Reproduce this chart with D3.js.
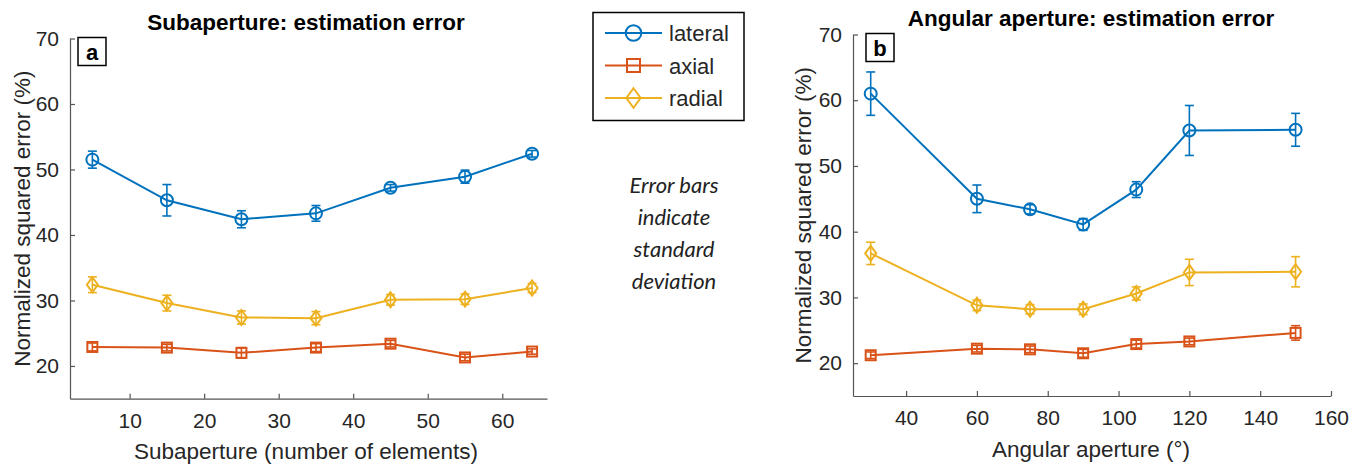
<!DOCTYPE html>
<html>
<head>
<meta charset="utf-8">
<script src="https://cdn.jsdelivr.net/npm/d3@7"></script>
<style>
  body { margin: 0; background: #fff; }
  svg { display: block; font-family: "Liberation Sans", Arial, sans-serif; }
</style>
</head>
<body>
<div class="content"></div>
<script>

// panel a: subaperture
var subX = [5, 15, 25, 35, 45, 55, 64];
var subLateral = [51.5, 45.3, 42.4, 43.3, 47.2, 48.9, 52.4];
var subLateralSd = [1.3, 2.4, 1.3, 1.2, 0.5, 1.0, 0.5];
var subAxial = [22.9, 22.8, 22.0, 22.8, 23.4, 21.3, 22.2];
var subAxialSd = [0.6, 0.5, 0.8, 0.6, 0.5, 0.5, 0.4];
var subRadial = [32.4, 29.6, 27.4, 27.3, 30.1, 30.2, 31.9];
var subRadialSd = [1.2, 1.2, 1.0, 1.0, 0.8, 0.8, 0.7];
var subTicks = [10, 20, 30, 40, 50, 60];

// panel b: angular aperture
var angX = [30, 60, 75, 90, 105, 120, 150];
var angLateral = [61.0, 45.0, 43.4, 41.1, 46.4, 55.4, 55.5];
var angLateralSd = [3.3, 2.1, 0.7, 0.9, 1.2, 3.8, 2.5];
var angAxial = [21.2, 22.2, 22.1, 21.5, 22.9, 23.3, 24.6];
var angAxialSd = [0.5, 0.5, 0.5, 0.6, 0.6, 0.5, 1.1];
var angRadial = [36.7, 28.8, 28.2, 28.2, 30.6, 33.8, 33.9];
var angRadialSd = [1.7, 0.8, 0.7, 0.8, 1.0, 2.0, 2.3];
var angTicks = [40, 60, 80, 100, 120, 140, 160];

var yTicks = [20, 30, 40, 50, 60, 70];
var seriesNames = ["lateral", "axial", "radial"];
var colors = ["#0072BD", "#D95319", "#EDB120"];
var markers = ["circle", "square", "diamond"];

var svg = d3.select(".content").append("svg")
   .attr("width", 1363)
   .attr("height", 468);

function marker(g, type, cx, cy, color, big) {
   var k = big ? 1.3 : 1;
   if (type == "circle") {
      g.append("circle").attr("cx", cx).attr("cy", cy).attr("r", 6 * k)
         .attr("fill", "none").attr("stroke", color).attr("stroke-width", 2);
   } else if (type == "square") {
      g.append("rect").attr("x", cx - 5 * k).attr("y", cy - 5 * k)
         .attr("width", 10 * k).attr("height", 10 * k)
         .attr("fill", "none").attr("stroke", color).attr("stroke-width", 2);
   } else {
      var w = 5.5 * k, h = 7.5 * k;
      g.append("path")
         .attr("d", `M${cx},${cy - h}L${cx + w},${cy}L${cx},${cy + h}L${cx - w},${cy}Z`)
         .attr("fill", "none").attr("stroke", color).attr("stroke-width", 2);
   }
}

function drawPanel(p) {
   var x = d3.scaleLinear().domain(p.xDomain).range(p.xRange);
   var y = d3.scaleLinear().domain([15, 70]).range(p.yRange);

   var g = svg.append("g");

   // axes, MATLAB style ticks pointing inward
   var yAxis = g.append("g")
      .attr("transform", `translate(${p.xRange[0]},0)`)
      .call(d3.axisLeft(y).tickValues(yTicks).tickSizeInner(-5).tickSizeOuter(0).tickPadding(11));
   var xAxis = g.append("g")
      .attr("transform", `translate(0,${p.yRange[0]})`)
      .call(d3.axisBottom(x).tickValues(p.xTicks).tickSizeInner(-5).tickSizeOuter(0).tickPadding(14));

   [yAxis, xAxis].forEach(a => {
      a.selectAll("path, line").attr("stroke", "#555").attr("stroke-width", 1.2);
      a.selectAll("text").attr("fill", "#262626").style("font-size", "21px")
         .style("font-family", "'Liberation Sans', Arial, sans-serif");
   });

   // series: error bars, lines, markers
   p.series.forEach((s, i) => {
      var pts = p.xs.map((v, j) => [v, s.values[j], s.sd[j]]);
      var sg = g.append("g");

      pts.forEach(d => {
         var px = x(d[0]);
         sg.append("line").attr("x1", px).attr("x2", px)
            .attr("y1", y(d[1] - d[2])).attr("y2", y(d[1] + d[2]))
            .attr("stroke", colors[i]).attr("stroke-width", 1.6);
         [d[1] - d[2], d[1] + d[2]].forEach(v => {
            sg.append("line").attr("x1", px - 4.5).attr("x2", px + 4.5)
               .attr("y1", y(v)).attr("y2", y(v))
               .attr("stroke", colors[i]).attr("stroke-width", 1.6);
         });
      });

      sg.append("path")
         .attr("d", d3.line().x(d => x(d[0])).y(d => y(d[1]))(pts))
         .attr("fill", "none")
         .attr("stroke", colors[i])
         .attr("stroke-width", 2);

      pts.forEach(d => marker(sg, markers[i], x(d[0]), y(d[1]), colors[i], false));
   });

   // panel letter box
   g.append("rect")
      .attr("x", p.xRange[0] + p.boxOff).attr("y", p.yRange[1] - 1)
      .attr("width", 28).attr("height", 28)
      .attr("fill", "white").attr("stroke", "black").attr("stroke-width", 1.5);
   g.append("text")
      .attr("x", p.xRange[0] + p.boxOff + 14).attr("y", p.yRange[1] + 21)
      .attr("text-anchor", "middle")
      .style("font-size", "22px").style("font-weight", "bold")
      .text(p.letter);

   // title and labels
   g.append("text")
      .attr("x", p.titleX).attr("y", p.titleY)
      .attr("text-anchor", "middle")
      .style("font-size", "22.5px").style("font-weight", "bold")
      .text(p.title);
   g.append("text")
      .attr("x", p.titleX).attr("y", p.xLabelY)
      .attr("text-anchor", "middle").attr("fill", "#262626")
      .style("font-size", "22.5px")
      .text(p.xLabel);
   g.append("text")
      .attr("transform", `translate(${p.yLabelX},${(p.yRange[0] + p.yRange[1]) / 2}) rotate(-90)`)
      .attr("text-anchor", "middle").attr("fill", "#262626")
      .style("font-size", "22.5px")
      .text("Normalized squared error (%)");
}

drawPanel({
   xs: subX, xDomain: [2, 66], xRange: [70, 547], yRange: [398.7, 38.5], xTicks: subTicks,
   series: [
      { values: subLateral, sd: subLateralSd },
      { values: subAxial, sd: subAxialSd },
      { values: subRadial, sd: subRadialSd }
   ],
   letter: "a", boxOff: 8, title: "Subaperture: estimation error", titleX: 306, titleY: 30,
   xLabel: "Subaperture (number of elements)", xLabelY: 459, yLabelX: 30
});

drawPanel({
   xs: angX, xDomain: [25, 160], xRange: [853, 1331], yRange: [396, 34.5], xTicks: angTicks,
   series: [
      { values: angLateral, sd: angLateralSd },
      { values: angAxial, sd: angAxialSd },
      { values: angRadial, sd: angRadialSd }
   ],
   letter: "b", boxOff: 13, title: "Angular aperture: estimation error", titleX: 1091, titleY: 26,
   xLabel: "Angular aperture (\u00B0)", xLabelY: 457, yLabelX: 811
});

// legend
var legend = svg.append("g");
legend.append("rect")
   .attr("x", 593).attr("y", 12.5).attr("width", 151).attr("height", 108)
   .attr("fill", "white").attr("stroke", "black").attr("stroke-width", 1.5);
seriesNames.forEach((name, i) => {
   var ly = 33 + i * 32.5;
   legend.append("line").attr("x1", 605).attr("x2", 662).attr("y1", ly).attr("y2", ly)
      .attr("stroke", colors[i]).attr("stroke-width", 2);
   marker(legend, markers[i], 633.5, ly, colors[i], true);
   legend.append("text").attr("x", 669).attr("y", ly + 8)
      .attr("fill", "#262626").style("font-size", "22px")
      .text(name);
});

// note
var noteLines = ["Error bars", "indicate", "standard", "deviation"];
noteLines.forEach((t, i) => {
   svg.append("text")
      .attr("x", 674).attr("y", 193 + i * 32)
      .attr("text-anchor", "middle").attr("fill", "#222")
      .style("font-family", "Lato, 'Open Sans', sans-serif")
      .style("font-style", "italic").style("font-size", "22px")
      .text(t);
});

</script>
</body>
</html>
